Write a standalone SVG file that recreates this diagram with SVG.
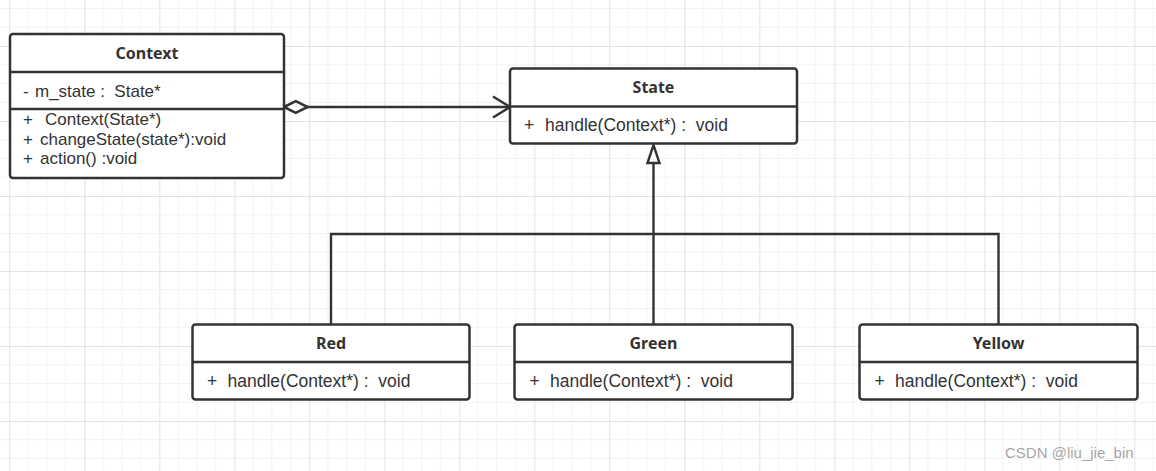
<svg xmlns="http://www.w3.org/2000/svg" width="1156" height="471" viewBox="0 0 1156 471">
<style>
.box{fill:#fff;stroke:#333;stroke-width:2.5}
.div{stroke:#333;stroke-width:2.5}
.title{font-family:"Noto Sans","Liberation Sans",sans-serif;font-size:16px;font-weight:bold;fill:#333;text-anchor:middle}
.txt{font-family:"Liberation Sans",Arial,sans-serif;font-size:17px;fill:#333;white-space:pre}
.op{font-size:17.5px}
.conn{fill:none;stroke:#333;stroke-width:2.4}
.wm{font-family:"Liberation Sans",Arial,sans-serif;font-size:15px;fill:#a6a6a6}
</style>
<defs>
<pattern id="grid" patternUnits="userSpaceOnUse" x="9.3" y="46" width="75" height="75">
<path d="M18.75,0V75M37.5,0V75M56.25,0V75M0,18.75H75M0,37.5H75M0,56.25H75" stroke="#f2f2f2" stroke-width="1" fill="none"/>
<path d="M0.5,0V75M0,0.5H75" stroke="#e2e2e2" stroke-width="1" fill="none"/>
</pattern>
<marker id="diamond" markerUnits="userSpaceOnUse" markerWidth="30" markerHeight="20" viewBox="-2 -8 28 16" refX="0" refY="0" orient="auto">
<path d="M0,0L11,-5.5L22,0L11,5.5Z" fill="#fff" stroke="#333" stroke-width="2.4"/>
</marker>
<marker id="open" markerUnits="userSpaceOnUse" markerWidth="24" markerHeight="28" viewBox="-20 -14 24 28" refX="0" refY="0" orient="auto">
<path d="M-17,-10.5L0,0L-17,10.5" fill="none" stroke="#333" stroke-width="2.4"/>
</marker>
<marker id="tri" markerUnits="userSpaceOnUse" markerWidth="24" markerHeight="20" viewBox="-2 -10 24 20" refX="0" refY="0" orient="auto">
<path d="M0,-6L18,0L0,6Z" fill="#fff" stroke="#333" stroke-width="2.4" stroke-linejoin="miter"/>
</marker>
</defs>
<rect width="1156" height="471" fill="#fff"/>
<rect width="1156" height="471" fill="url(#grid)"/>

<g id="connectors">
<path class="conn" d="M284,107H510" marker-start="url(#diamond)" marker-end="url(#open)"/>
<path class="conn" d="M331,324V234H998.5V324"/>
<path class="conn" d="M653.5,324V163" marker-end="url(#tri)"/>
</g>

<g id="Context">
<rect class="box" x="10" y="34" width="274" height="144" rx="3"/>
<line class="div" x1="10" y1="72" x2="284" y2="72"/>
<line class="div" x1="10" y1="109" x2="284" y2="109"/>
<text class="title" x="147" y="58.5">Context</text>
<text class="txt" y="97"><tspan x="23">-</tspan><tspan x="35">m_state :  State*</tspan></text>
<text class="txt" y="125"><tspan x="23">+</tspan><tspan x="45">Context(State*)</tspan></text>
<text class="txt" y="144.5"><tspan x="23">+</tspan><tspan x="40">changeState(state*):void</tspan></text>
<text class="txt" y="164"><tspan x="23">+</tspan><tspan x="40">action() :void</tspan></text>
</g>

<g id="State">
<rect class="box" x="510" y="68.5" width="287" height="75" rx="3"/>
<line class="div" x1="510" y1="106.5" x2="797" y2="106.5"/>
<text class="title" x="653.5" y="92.5">State</text>
<text class="txt op" y="131"><tspan x="524">+</tspan><tspan x="545">handle(Context*) :  void</tspan></text>
</g>

<g id="Red">
<rect class="box" x="192.5" y="324.5" width="277" height="75" rx="3"/>
<line class="div" x1="192.5" y1="362" x2="469.5" y2="362"/>
<text class="title" x="331" y="349">Red</text>
<text class="txt op" y="386.5"><tspan x="207">+</tspan><tspan x="227.5">handle(Context*) :  void</tspan></text>
</g>

<g id="Green">
<rect class="box" x="514.5" y="324.5" width="278" height="75" rx="3"/>
<line class="div" x1="514.5" y1="362" x2="792.5" y2="362"/>
<text class="title" x="653.5" y="349">Green</text>
<text class="txt op" y="386.5"><tspan x="529.5">+</tspan><tspan x="550">handle(Context*) :  void</tspan></text>
</g>

<g id="Yellow">
<rect class="box" x="859.5" y="324.5" width="278" height="75" rx="3"/>
<line class="div" x1="859.5" y1="362" x2="1137.5" y2="362"/>
<text class="title" x="998.5" y="349">Yellow</text>
<text class="txt op" y="386.5"><tspan x="874.5">+</tspan><tspan x="895">handle(Context*) :  void</tspan></text>
</g>

<text class="wm" x="1005" y="458">CSDN @liu_jie_bin</text>
</svg>
